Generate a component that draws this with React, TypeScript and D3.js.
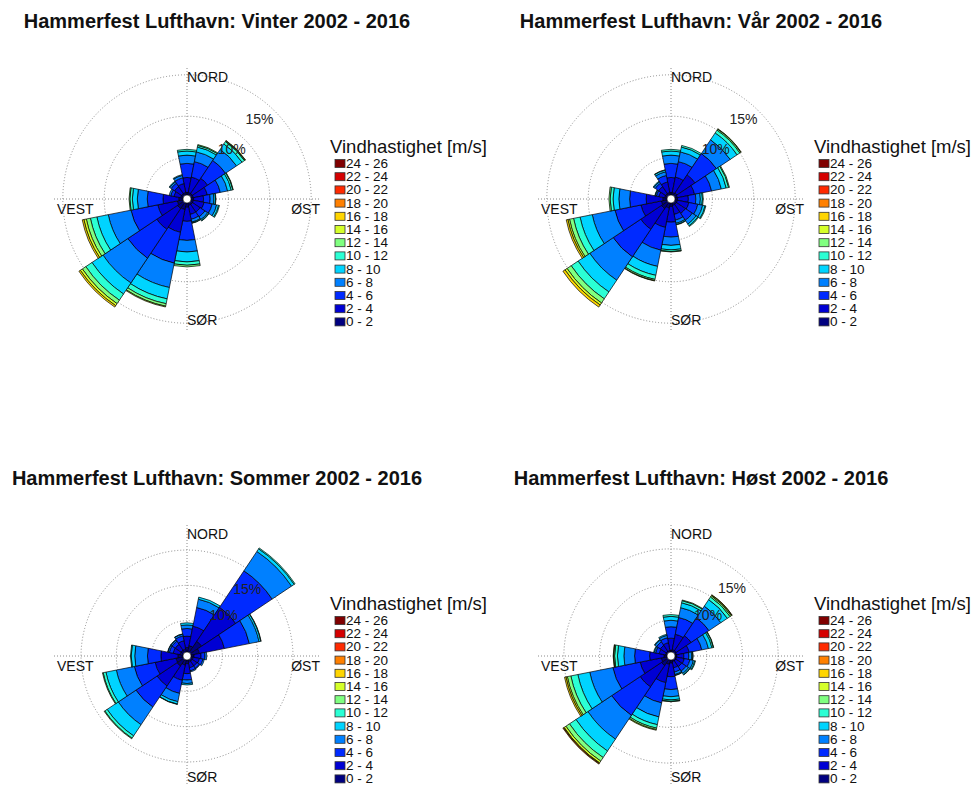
import * as d3 from "d3";

// wind directions, clockwise from north
const directions = ["N", "NNE", "NE", "ENE", "E", "ESE", "SE", "SSE", "S", "SSW", "SW", "WSW", "W", "WNW", "NW", "NNW"];
const speedBins = ["0 - 2", "2 - 4", "4 - 6", "6 - 8", "8 - 10", "10 - 12", "12 - 14", "14 - 16", "16 - 18", "18 - 20", "20 - 22", "22 - 24", "24 - 26"];
const ringTicks = [5, 10, 15];
const labeledTicks = [10, 15];
const compass = ["NORD", "ØST", "SØR", "VEST"];

// frequency (%) per direction, one value per speed bin starting at 0-2 m/s
const vinter = [
  [0.8, 1.8, 1.7, 1.0, 0.5, 0.2],
  [0.8, 1.9, 1.9, 1.2, 0.6, 0.2, 0.1],
  [0.8, 2.2, 2.6, 1.6, 0.8, 0.35, 0.1, 0.05],
  [0.8, 1.7, 1.6, 0.9, 0.45, 0.2, 0.05],
  [0.8, 1.2, 0.8, 0.45, 0.2, 0.05],
  [0.8, 1.3, 1.0, 0.55, 0.25, 0.1],
  [0.8, 1.1, 0.7, 0.4, 0.15, 0.05],
  [0.8, 1.1, 0.6, 0.35, 0.1, 0.05],
  [1.0, 1.7, 2.3, 1.4, 1.2, 0.4, 0.2],
  [1.3, 2.8, 3.8, 3.0, 1.4, 0.6, 0.3, 0.1],
  [1.4, 3.0, 4.2, 3.6, 1.6, 0.9, 0.5, 0.3, 0.2],
  [1.2, 2.4, 3.3, 2.8, 1.4, 0.8, 0.5, 0.3, 0.2],
  [1.0, 1.9, 1.9, 1.2, 0.6, 0.3, 0.1],
  [0.8, 0.8, 0.4, 0.2],
  [0.8, 1.0, 0.5, 0.2, 0.1],
  [0.8, 1.1, 0.7, 0.3, 0.1],
];

const vaar = [
  [0.8, 1.8, 1.7, 1.0, 0.5, 0.2],
  [0.8, 1.9, 1.9, 1.2, 0.6, 0.2],
  [0.9, 2.6, 3.1, 2.0, 1.0, 0.4, 0.15, 0.05],
  [0.8, 2.1, 2.1, 1.2, 0.6, 0.3, 0.1],
  [0.8, 1.3, 0.9, 0.55, 0.25, 0.1],
  [0.8, 1.4, 1.1, 0.6, 0.3, 0.1],
  [0.8, 1.3, 1.0, 0.55, 0.25, 0.1],
  [0.8, 1.1, 0.7, 0.4, 0.15, 0.05],
  [0.9, 1.9, 1.8, 1.0, 0.55, 0.2, 0.05],
  [1.1, 2.4, 2.8, 2.0, 1.1, 0.5, 0.15, 0.05],
  [1.4, 3.0, 4.0, 3.4, 1.7, 1.0, 0.6, 0.3, 0.3],
  [1.2, 2.5, 3.2, 2.8, 1.5, 0.8, 0.5, 0.2, 0.2],
  [1.0, 2.0, 2.0, 1.3, 0.7, 0.35, 0.15],
  [0.8, 0.7, 0.3, 0.15, 0.05],
  [0.8, 1.0, 0.5, 0.2, 0.1],
  [0.8, 1.3, 0.8, 0.45, 0.2, 0.05],
];

const sommer = [
  [1.2, 1.6, 1.1, 0.5, 0.3],
  [1.5, 2.8, 2.7, 1.2, 0.3],
  [2.5, 5.8, 6.2, 3.3, 0.45, 0.15],
  [1.8, 3.6, 3.6, 1.4, 0.25, 0.05],
  [1.0, 1.0, 0.55, 0.25],
  [0.9, 0.9, 0.5, 0.2],
  [0.9, 0.8, 0.4, 0.1],
  [0.9, 0.8, 0.45, 0.15],
  [1.1, 1.4, 0.9, 0.5, 0.2],
  [1.3, 2.2, 1.9, 1.2, 0.35, 0.05],
  [1.7, 3.4, 3.6, 3.0, 1.9, 0.4, 0.1],
  [1.6, 3.0, 3.0, 2.6, 1.5, 0.4, 0.1],
  [1.3, 2.4, 1.9, 1.8, 0.5, 0.1],
  [1.0, 1.0, 0.55, 0.2, 0.05],
  [1.0, 1.0, 0.55, 0.2, 0.05],
  [1.0, 1.2, 0.7, 0.25, 0.05],
];

const hoest = [
  [0.8, 1.7, 1.6, 0.9, 0.55, 0.25],
  [0.9, 2.2, 2.4, 1.4, 0.7, 0.3, 0.1],
  [0.9, 2.5, 3.0, 2.0, 1.1, 0.45, 0.2, 0.1, 0.05],
  [0.8, 1.8, 1.8, 0.95, 0.5, 0.2, 0.05],
  [0.8, 1.0, 0.7, 0.4, 0.15, 0.05],
  [0.8, 1.1, 0.8, 0.5, 0.2, 0.1],
  [0.8, 1.0, 0.75, 0.4, 0.2, 0.05],
  [0.8, 0.9, 0.6, 0.35, 0.1, 0.05],
  [1.0, 1.9, 1.8, 1.0, 0.45, 0.2, 0.05],
  [1.2, 2.6, 2.9, 2.0, 1.1, 0.5, 0.2, 0.1],
  [1.6, 3.6, 4.8, 4.0, 2.0, 1.1, 0.6, 0.3, 0.1, 0.1],
  [1.4, 3.0, 3.9, 3.3, 1.7, 1.0, 0.5, 0.2, 0.2],
  [1.0, 2.0, 2.1, 1.5, 0.9, 0.4, 0.15, 0.05],
  [0.8, 0.9, 0.5, 0.2, 0.1],
  [0.8, 1.0, 0.6, 0.3, 0.1],
  [0.8, 1.1, 0.7, 0.35, 0.15],
];

const seasonTitles = [
  "Hammerfest Lufthavn: Vinter 2002 - 2016",
  "Hammerfest Lufthavn: Vår 2002 - 2016",
  "Hammerfest Lufthavn: Sommer 2002 - 2016",
  "Hammerfest Lufthavn: Høst 2002 - 2016",
];
const seasonData = [vinter, vaar, sommer, hoest];

const W = 978;
const H = 785;
const FONT = "'Liberation Sans', Arial, Helvetica, sans-serif";
const R_MAX = 130; // radius of the longest bar
const HOLE = 4;

// matlab style jet colormap
function jet(t: number) {
  const c = (v: number) => Math.max(0, Math.min(1, v));
  const r = c(1.5 - Math.abs(4 * t - 3));
  const g = c(1.5 - Math.abs(4 * t - 2));
  const b = c(1.5 - Math.abs(4 * t - 1));
  return d3.rgb(r * 255, g * 255, b * 255).formatHex();
}

const binColor = d3
  .scaleOrdinal<number, string>()
  .domain(d3.range(speedBins.length))
  .range(d3.range(speedBins.length).map((i) => jet(i / (speedBins.length - 1))));

function Rose({ title, data, cx, cy }: { title: string; data: number[][]; cx: number; cy: number }) {
  const totals = data.map((d) => d3.sum(d));
  const r = d3.scaleLinear().domain([0, d3.max(totals)!]).range([0, R_MAX]);
  const step = (2 * Math.PI) / directions.length;
  const arc = d3.arc<{ r0: number; r1: number; a0: number; a1: number }>()
    .innerRadius((d) => d.r0)
    .outerRadius((d) => d.r1)
    .startAngle((d) => d.a0)
    .endAngle((d) => d.a1);

  const segs: { key: string; d: string; fill: string }[] = [];
  data.forEach((bins, i) => {
    const cum = Array.from(d3.cumsum(bins));
    const a0 = i * step - step / 2;
    const a1 = i * step + step / 2;
    bins.forEach((v, j) => {
      if (v <= 0) return;
      const r0 = Math.max(HOLE, r(j === 0 ? 0 : cum[j - 1]));
      const r1 = r(cum[j]);
      segs.push({ key: `${i}-${j}`, d: arc({ r0, r1, a0, a1 })!, fill: binColor(j) });
    });
  });

  const labAng = (42 * Math.PI) / 180;
  const legX = cx + 143;

  return (
    <g>
      <text x={cx + 30} y={cy - 171} textAnchor="middle" fontSize={20} fontWeight="bold" fontFamily={FONT} fill="#111">
        {title}
      </text>
      <g transform={`translate(${cx},${cy})`}>
        {ringTicks.map((t) => (
          <circle key={t} r={r(t)} fill="none" stroke="#8a8a8a" strokeWidth={1} strokeDasharray="1 2" />
        ))}
        <line x1={-133} x2={133} y1={0} y2={0} stroke="#8a8a8a" strokeDasharray="1 2" />
        <line x1={0} x2={0} y1={-131} y2={133} stroke="#8a8a8a" strokeDasharray="1 2" />
        {segs.map((s) => (
          <path key={s.key} d={s.d} fill={s.fill} stroke="#000" strokeWidth={0.7} strokeLinejoin="round" />
        ))}
        <circle r={HOLE} fill="#fff" stroke="#111" strokeWidth={0.6} />
        {labeledTicks.map((t) => (
          <text
            key={t}
            x={(r(t) - 16) * Math.sin(labAng)}
            y={-(r(t) - 16) * Math.cos(labAng)}
            textAnchor="middle"
            dominantBaseline="central"
            fontSize={14}
            fontFamily={FONT}
            fill="#222"
          >
            {t}%
          </text>
        ))}
        <g fontSize={14} fontFamily={FONT} fill="#111" dominantBaseline="central">
          <text x={0} y={-122}>{compass[0]}</text>
          <text x={133} y={10} textAnchor="end">{compass[1]}</text>
          <text x={0} y={121}>{compass[2]}</text>
          <text x={-130} y={10}>{compass[3]}</text>
        </g>
      </g>
      <g fontFamily={FONT} fill="#111">
        <text x={legX} y={cy - 46} fontSize={18.5}>
          Vindhastighet [m/s]
        </text>
        {speedBins
          .map((lab, j) => ({ lab, j }))
          .reverse()
          .map(({ lab, j }, k) => {
            const yy = cy - 35.5 + k * 13.2;
            return (
              <g key={lab}>
                <rect x={legX + 5} y={yy - 4} width={10} height={8} fill={binColor(j)} stroke="#333" strokeWidth={0.8} />
                <text x={legX + 16} y={yy} fontSize={13.5} dominantBaseline="central">
                  {lab}
                </text>
              </g>
            );
          })}
      </g>
    </g>
  );
}

export default function App() {
  const colX = [187, 671];
  const rowY = [199, 656];
  return (
    <svg width={W} height={H} style={{ position: "absolute", left: 0, top: 0, background: "#fff" }}>
      <rect width={W} height={H} fill="#fff" />
      {seasonTitles.map((t, i) => (
        <Rose key={t} title={t} data={seasonData[i]} cx={colX[i % 2]} cy={rowY[Math.floor(i / 2)]} />
      ))}
    </svg>
  );
}
